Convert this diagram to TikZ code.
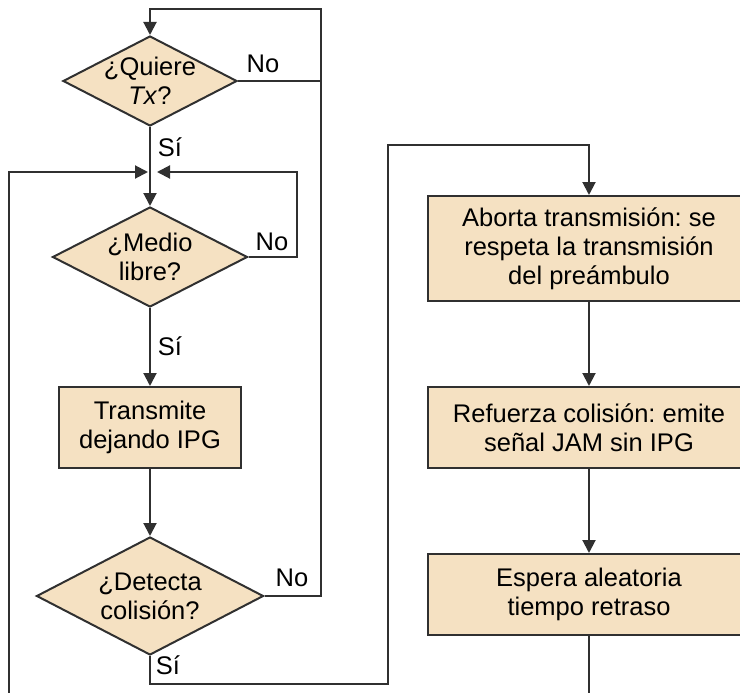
\documentclass[tikz,border=0pt]{standalone}
\usepackage{fontspec}
\setmainfont{Liberation Sans}
\usetikzlibrary{shapes.geometric,arrows.meta}
\definecolor{boxfill}{HTML}{F5E1C2}
\definecolor{linecol}{HTML}{303030}
\frenchspacing
\begin{document}
\begin{tikzpicture}[x=1pt,y=-1pt,
  every node/.style={font=\fontsize{25.5}{29}\selectfont, text=black},
  conn/.style={draw=linecol, line width=2pt},
  arr/.style={conn, -{Triangle[length=13pt,width=13pt]}},
  dec/.style={diamond, draw=linecol, line width=2pt, fill=boxfill, inner sep=0pt, align=center},
  proc/.style={rectangle, draw=linecol, line width=2pt, fill=boxfill, inner sep=0pt, align=center},
  lbl/.style={inner sep=0pt}]
\useasboundingbox (0,0) rectangle (740,693);
\clip (0,0) rectangle (740,693);

% decisions and processes
\node[dec, minimum width=174pt, minimum height=90pt, aspect=1.93, inner sep=-4pt] (q) at (150,81) {¿Quiere\\\textit{Tx}?};
\node[dec, minimum width=195pt, minimum height=100pt, aspect=1.95] (m) at (150,257) {¿Medio\\libre?};
\node[proc, minimum width=182pt, minimum height=81pt] (t) at (150,427.5) {Transmite\\dejando IPG};
\node[dec, minimum width=227pt, minimum height=118pt, aspect=1.92] (d) at (150,596) {¿Detecta\\colisión?};

\node[proc, minimum width=322pt, minimum height=105pt] (a) at (589,248.5) {Aborta transmisión: se\\respeta la transmisión\\del preámbulo};
\node[proc, minimum width=322pt, minimum height=81pt] (r) at (589,427.5) {Refuerza colisión: emite\\señal JAM sin IPG};
\node[proc, minimum width=322pt, minimum height=81pt] (e) at (589,594.5) {Espera aleatoria\\tiempo retraso};

% coordinates
\coordinate (topR) at (321,9);
\coordinate (topL) at (150,9);
\coordinate (join) at (150,172);
\coordinate (joinL) at (148,172);
\coordinate (joinR) at (157,172);
\coordinate (leftBot) at (9,700);
\coordinate (mr) at (297,257);
\coordinate (sB) at (150,684);
\coordinate (sR) at (388,684);
\coordinate (sT) at (388,145);
\coordinate (eBot) at (589,700);

% connectors
\draw[arr] (d.east) -- (d.east -| topR) -- (topR) -- (topL) -- (q.north);
\draw[conn] (q.east) -- (q.east -| topR);
\draw[conn] (q.south) -- (join);
\draw[arr] (join) -- (m.north);
\draw[arr] (leftBot) -- (leftBot |- joinL) -- (joinL);
\draw[arr] (m.east) -- (mr) -- (mr |- joinR) -- (joinR);
\draw[arr] (m.south) -- (t.north);
\draw[arr] (t.south) -- (d.north);
\draw[arr] (d.south) -- (sB) -- (sR) -- (sT) -- (sT -| a.north) -- (a.north);
\draw[arr] (a.south) -- (r.north);
\draw[arr] (r.south) -- (e.north);
\draw[conn] (e.south) -- (eBot);

% labels
\node[lbl] (l1) at (263,64) {No};
\node[lbl] (l2) at (170,147) {Sí};
\node[lbl] (l3) at (272,242) {No};
\node[lbl] (l4) at (170,346) {Sí};
\node[lbl] (l5) at (292,578) {No};
\node[lbl] (l6) at (168,665) {Sí};
\end{tikzpicture}
\end{document}
